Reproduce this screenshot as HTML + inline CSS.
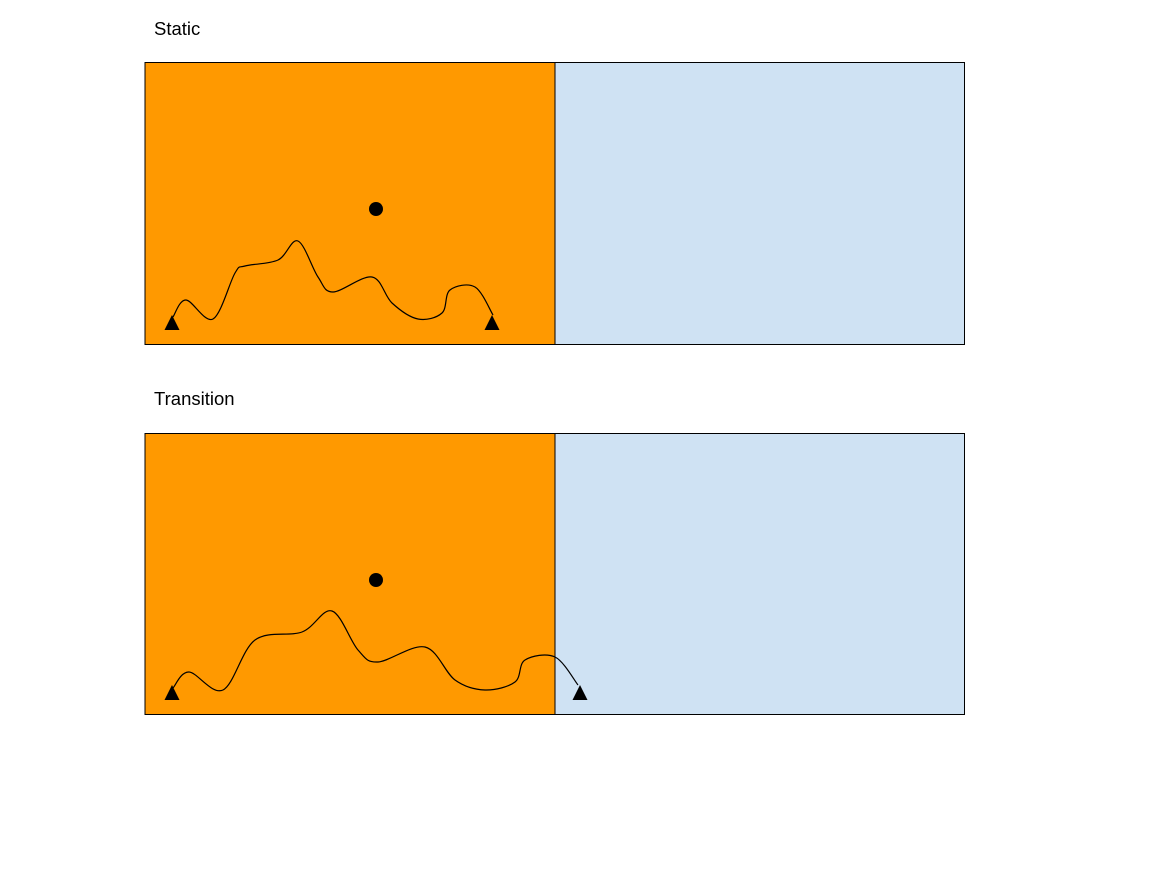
<!DOCTYPE html>
<html><head><meta charset="utf-8"><style>
body{margin:0;background:#fff;width:1152px;height:864px;overflow:hidden;font-family:"Liberation Sans",sans-serif}
</style></head><body>
<svg width="1152" height="864">
<g>
<text x="154" y="35" font-size="18.5" font-family="Liberation Sans, sans-serif">Static</text>
<rect x="145" y="62.5" width="410" height="282" fill="#ff9900"/>
<rect x="555" y="62.5" width="409.5" height="282" fill="#cfe2f3"/>
<rect x="145" y="62.5" width="819.5" height="282" fill="none" stroke="#000" stroke-width="1"/>
<line x1="555" y1="62.5" x2="555" y2="344.5" stroke="#000"/>
<circle cx="376" cy="209" r="7" fill="#000"/>
<path id="p1" fill="none" stroke="#000" stroke-width="1.2"/>
<polygon points="172,315 164.5,330 179.5,330" fill="#000"/>
<polygon points="492,315 484.5,330 499.5,330" fill="#000"/>
</g>
<g>
<text x="154" y="405" font-size="18.5" font-family="Liberation Sans, sans-serif">Transition</text>
<rect x="145" y="433.5" width="410" height="281" fill="#ff9900"/>
<rect x="555" y="433.5" width="409.5" height="281" fill="#cfe2f3"/>
<rect x="145" y="433.5" width="819.5" height="281" fill="none" stroke="#000" stroke-width="1"/>
<line x1="555" y1="433.5" x2="555" y2="714.5" stroke="#000"/>
<circle cx="376" cy="580" r="7" fill="#000"/>
<path id="p2" fill="none" stroke="#000" stroke-width="1.2"/>
<polygon points="172,685 164.5,700 179.5,700" fill="#000"/>
<polygon points="580,685 572.5,700 587.5,700" fill="#000"/>
</g>
</svg>
<script>
const staticX=[173,186,213,235,245,278,298,318,333,372,392,418,442,450,475,493];
const staticY=[317,300,319,273,266,260,241,277,292,277,303,319,313,290,287,315];
const transX=[173,189,223,255,302,332,358,378,425,455,485,515,525,555,578];
const transY=[688,672,690,640,632,611,650,662,647,680,690,682,660,657,685];
function smooth(xs,ys){
  let d='M'+xs[0]+','+ys[0];
  for(let i=0;i<xs.length-1;i++){
    const x0=xs[Math.max(i-1,0)],y0=ys[Math.max(i-1,0)];
    const x1=xs[i],y1=ys[i],x2=xs[i+1],y2=ys[i+1];
    const x3=xs[Math.min(i+2,xs.length-1)],y3=ys[Math.min(i+2,xs.length-1)];
    d+=' C'+(x1+(x2-x0)/6)+','+(y1+(y2-y0)/6)+' '+(x2-(x3-x1)/6)+','+(y2-(y3-y1)/6)+' '+x2+','+y2;
  }
  return d;
}
document.getElementById('p1').setAttribute('d',smooth(staticX,staticY));
document.getElementById('p2').setAttribute('d',smooth(transX,transY));
</script>
</body></html>
